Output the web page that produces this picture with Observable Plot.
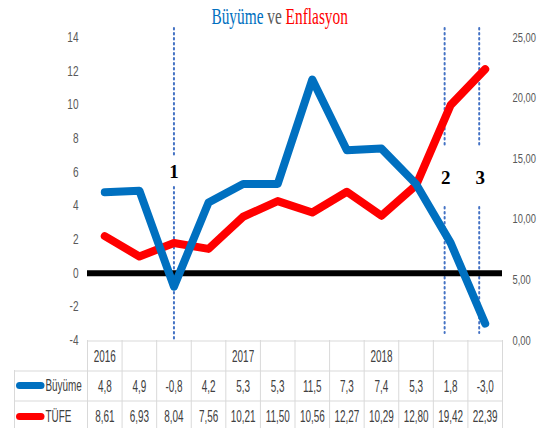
<!DOCTYPE html>
<html><head><meta charset="utf-8">
<script src="https://cdn.jsdelivr.net/npm/d3@7"></script>
<script src="https://cdn.jsdelivr.net/npm/@observablehq/plot@0.6"></script>
<style>
body{margin:0;background:#fff;}
#wrap{position:relative;width:542px;height:428px;overflow:hidden;}
#title{position:absolute;top:0px;left:18px;width:524px;text-align:center;font-family:"Liberation Serif","DejaVu Serif",serif;font-size:24px;line-height:32px;z-index:2;white-space:nowrap;}
#title .inner{display:inline-block;transform:scaleX(0.64);transform-origin:center;}
</style></head><body>
<div id="wrap"><div id="title"><span class="inner"><span style="color:#0070C0">Büyüme</span> <span style="color:#595959">ve</span> <span style="color:#FF0000">Enflasyon</span></span></div></div>
<script>
const periods = ["2016","","","","2017","","","","2018","","",""];
const buyume = [4.8, 4.9, -0.8, 4.2, 5.3, 5.3, 11.5, 7.3, 7.4, 5.3, 1.8, -3.0];
const tufe = [8.61, 6.93, 8.04, 7.56, 10.21, 11.50, 10.56, 12.27, 10.29, 12.80, 19.42, 22.39];
const seriesNames = ["Büyüme", "TÜFE"];
const leftTicks = [-4, -2, 0, 2, 4, 6, 8, 10, 12, 14];
const rightTicks = [0, 5, 10, 15, 20, 25];
const events = [{i: 2, label: "1"}, {i: 10, label: "2"}, {i: 11, label: "3"}];

const BLUE = "#0070C0", RED = "#FF0000", GRID = "#d9d9d9", TXT = "#404040";
const FONT = "'Liberation Sans',Arial,sans-serif";
const yR = v => -4 + v * 18 / 25; // right axis (0..25) onto left (-4..14)
const comma = (v, n) => v.toFixed(n).replace(".", ",");
const idx = d3.range(periods.length);
const borders = d3.range(periods.length + 1).map(k => k - 0.5);
const ev1 = events.filter(e => e.i === 2), ev23 = events.filter(e => e.i !== 2);
const dots = {stroke: "#4472C4", strokeWidth: 2, strokeDasharray: "1.5,3.5", strokeLinecap: "round"};
const serif = {fontFamily: "'Liberation Serif',serif", fontSize: 19, fontWeight: "bold", fill: "black", lineAnchor: "middle"};
const cell = {fill: TXT, fontSize: 16, lineAnchor: "middle"};

const plot = Plot.plot({
  width: 542, height: 428,
  marginTop: 37, marginBottom: 88, marginLeft: 87, marginRight: 40,
  style: {fontFamily: FONT, fontSize: "13.5px", background: "transparent", overflow: "visible"},
  x: {type: "linear", domain: [-0.5, 11.5], axis: null},
  y: {domain: [-4, 14], axis: null},
  marks: [
    // left axis
    Plot.text(leftTicks, {y: d => d, frameAnchor: "left", dx: -9, textAnchor: "end", text: d => String(d), fill: "#595959", fontSize: 14}),
    // right axis
    Plot.text(rightTicks, {y: d => yR(d), frameAnchor: "right", dx: 10, textAnchor: "start", text: d => comma(d, 2), fill: "#595959", fontSize: 13}),
    // event dotted lines
    Plot.ruleX(ev1, {x: "i", insetTop: -9, insetBottom: 185, ...dots}),
    Plot.ruleX(ev1, {x: "i", insetTop: 150, insetBottom: -2, ...dots}),
    Plot.ruleX(ev23, {x: "i", dx: -6, insetTop: -9, insetBottom: 193, ...dots}),
    Plot.ruleX(ev23, {x: "i", dx: -6, insetTop: 170, insetBottom: 7, ...dots}),
    Plot.text(ev1, {x: "i", frameAnchor: "top", dy: 134, text: "label", ...serif}),
    Plot.text(ev23, {x: "i", frameAnchor: "top", dy: 140, dx: -5, text: "label", ...serif}),
    // zero line
    Plot.ruleY([0], {stroke: "black", strokeWidth: 6}),
    // series
    Plot.line(tufe, {x: (d, i) => i, y: d => yR(d), stroke: RED, strokeWidth: 8, strokeLinecap: "round", strokeLinejoin: "round"}),
    Plot.line(buyume, {x: (d, i) => i, y: d => d, stroke: BLUE, strokeWidth: 8, strokeLinecap: "round", strokeLinejoin: "round"}),
    // data table grid
    Plot.ruleX(borders, {x: d => d, insetTop: 303, insetBottom: -88, stroke: GRID}),
    Plot.ruleX([borders[0]], {x: d => d, dx: -73, insetTop: 333, insetBottom: -88, stroke: GRID}),
    Plot.ruleY([-4], {dy: 0.5, stroke: GRID}),
    Plot.ruleY([-4], {dy: 30.5, insetLeft: -73, stroke: GRID}),
    Plot.ruleY([-4], {dy: 60.5, insetLeft: -73, stroke: GRID}),
    // table text
    Plot.text(idx, {x: d => d, frameAnchor: "bottom", dy: 16, text: i => periods[i], ...cell}),
    Plot.text(idx, {x: d => d, frameAnchor: "bottom", dy: 46, text: i => comma(buyume[i], 1), ...cell}),
    Plot.text(idx, {x: d => d, frameAnchor: "bottom", dy: 76, text: i => comma(tufe[i], 2), ...cell}),
    // legend keys in table
    Plot.ruleY([-4], {dy: 45, insetLeft: -67.5, insetRight: 461, stroke: BLUE, strokeWidth: 7, strokeLinecap: "round"}),
    Plot.ruleY([-4], {dy: 76, insetLeft: -67.5, insetRight: 461, stroke: RED, strokeWidth: 7, strokeLinecap: "round"}),
    Plot.text([seriesNames[0]], {frameAnchor: "bottom-left", dx: -42, dy: 45, textAnchor: "start", text: d => d, ...cell}),
    Plot.text([seriesNames[1]], {frameAnchor: "bottom-left", dx: -42, dy: 76, textAnchor: "start", text: d => d, ...cell})
  ]
});
document.getElementById("wrap").appendChild(plot);
// condense the sans-serif labels horizontally (narrow, Calibri-like look)
d3.select(plot).selectAll("text").each(function() {
  const cs = getComputedStyle(this);
  if (cs.fontFamily.includes("Serif")) return;
  const k = parseFloat(cs.fontSize) >= 15.5 ? 0.62 : 0.72;
  let t = this.getAttribute("transform");
  if (!t) {
    const x = +(this.getAttribute("x") || 0), y = +(this.getAttribute("y") || 0);
    this.removeAttribute("x"); this.removeAttribute("y");
    t = `translate(${x},${y})`;
  }
  this.setAttribute("transform", `${t} scale(${k},1)`);
});
</script>
</body></html>
